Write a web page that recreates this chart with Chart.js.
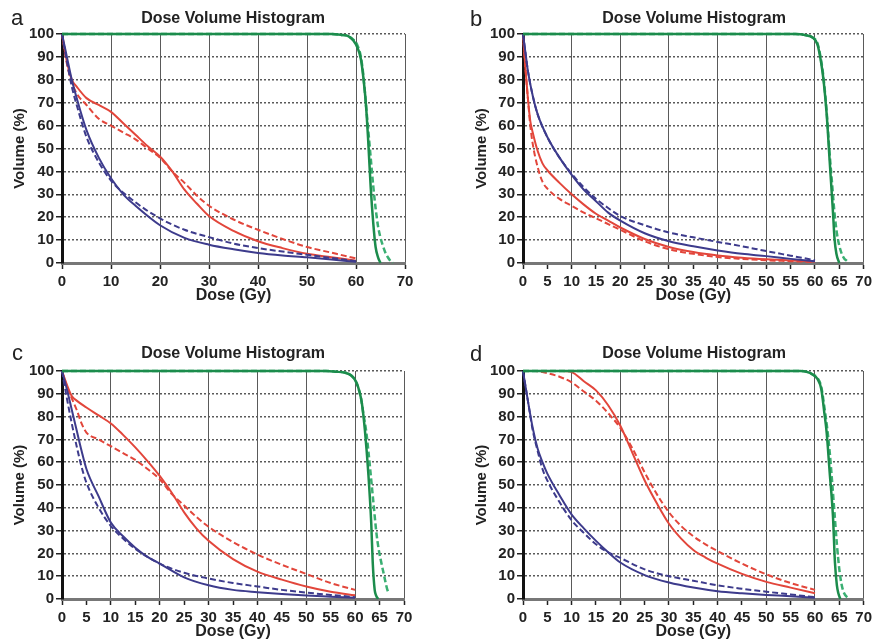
<!DOCTYPE html>
<html>
<head>
<meta charset="utf-8">
<script src="https://cdn.jsdelivr.net/npm/chart.js@4"></script>
<style>
  body { margin: 0; background: #fff; }
  #page { position: relative; width: 876px; height: 642px; overflow: hidden; font-family: "Liberation Sans", Arial, sans-serif; color: #222; }
  canvas { position: absolute; }
  .title { position: absolute; font-weight: bold; font-size: 16px; line-height: 16px; transform: translateX(-50%); white-space: nowrap; }
  .letter { position: absolute; font-size: 22px; line-height: 22px; }
</style>
</head>
<body>
<div id="page">
  <canvas id="chartA" width="438" height="321" style="left:0;top:0"></canvas>
  <canvas id="chartB" width="438" height="321" style="left:438px;top:0"></canvas>
  <canvas id="chartC" width="438" height="321" style="left:0;top:321px"></canvas>
  <canvas id="chartD" width="438" height="321" style="left:438px;top:321px"></canvas>

  <div class="letter" style="left:11px;top:7px">a</div>
  <div class="letter" style="left:470px;top:8px">b</div>
  <div class="letter" style="left:12px;top:342px">c</div>
  <div class="letter" style="left:470px;top:343px">d</div>

  <div class="title" style="left:233px;top:10px">Dose Volume Histogram</div>
  <div class="title" style="left:694px;top:10px">Dose Volume Histogram</div>
  <div class="title" style="left:233px;top:345px">Dose Volume Histogram</div>
  <div class="title" style="left:694px;top:345px">Dose Volume Histogram</div>
</div>

<script>
// [dose (Gy), volume (%)]

// panel a
const blueSolidA = [[0,100],[1,90],[2,80],[3,72],[5,58],[7.5,46],[10,37],[12.5,30],[15,25],[20,16.5],[25,11],[30,8],[35,6],[40,4.4],[45,3.3],[50,2.5],[55,1.5],[60,0.5]];
const blueDashedA = [[0,100],[1,88],[2,77],[3,69],[5,55],[7.5,44],[10,36],[15,26.5],[20,19.5],[25,14.5],[30,11.3],[35,8.5],[40,6.5],[45,5],[50,3.6],[55,2.2],[60,0.8]];
const redSolidA = [[0,100],[1,88],[2,80],[3,77],[5,72],[7.5,69],[10,66],[12.5,61],[15,56],[17.5,51],[20,46.5],[22.5,40],[25,32],[27.5,26],[30,20.5],[35,14],[40,9.5],[45,6.5],[50,4],[55,2.5],[60,1]];
const redDashedA = [[0,100],[1,87],[2,79],[3,74],[5,69],[7.5,63],[10,60],[12.5,57],[15,54],[17.5,50],[20,46],[22.5,40],[25,35],[27.5,29.5],[30,25],[35,19],[40,14.5],[45,10.5],[50,7],[55,4.5],[60,2]];
const greenSolidA = [[0,100],[55,100],[57,99.6],[58.5,99],[59.5,97],[60.3,94],[61,89],[61.5,81],[62,70],[62.5,53],[63,33],[63.5,18],[64,7],[64.5,2.5],[65,0]];
const greenDashedA = [[0,100],[55,100],[57,99.6],[58.5,99],[59.5,97.5],[60.3,95],[61,90],[61.5,82],[62,70],[62.5,58],[63,46],[63.5,34],[64,24],[64.5,16],[65,11],[65.5,7.5],[66,4.5],[66.5,2.5],[67,1],[67.5,0]];

// panel b
const blueSolidB = [[0,100],[0.5,92],[1,84],[2,73],[3,65],[5,55],[7.5,46],[10,38.5],[12.5,32],[15,27],[17.5,22],[20,18.5],[25,13],[30,9.5],[35,7.3],[40,5.5],[45,4],[50,3],[55,1.8],[60,0.8]];
const blueDashedB = [[0,100],[0.5,92],[1,84],[2,73],[3,65],[5,55],[7.5,46],[10,39],[12.5,33],[15,28],[17.5,24],[20,20.5],[25,16.5],[30,13.3],[35,11.2],[40,9.2],[45,7.3],[50,5.2],[55,3.2],[60,1.2]];
const redSolidB = [[0,100],[0.5,85],[1,72],[1.5,62],[2,57],[3,49],[4,43.5],[5,40.5],[7.5,35],[10,30],[12.5,25.5],[15,21.5],[17.5,18.5],[20,15.5],[25,10.5],[30,7],[35,4.8],[40,3.3],[45,2.3],[50,1.6],[55,1.1],[60,0.6]];
const redDashedB = [[0,100],[0.5,85],[1,72],[1.5,60],[2,52],[3,42],[4,35.5],[5,32.5],[7.5,28],[10,25],[12.5,22],[15,19.5],[17.5,17],[20,14.5],[25,9.5],[30,6],[35,4],[40,2.6],[45,1.8],[50,1.2],[55,0.8],[60,0.4]];
const greenSolidB = [[0,100],[56,100],[58,99.5],[59.5,98.5],[60.5,95.5],[61.3,87],[61.8,79],[62.4,65],[63,45],[63.4,32],[63.7,22],[64,11],[64.4,4],[65,0]];
const greenDashedB = [[0,100],[56,100],[58,99.5],[59.5,98.5],[60.5,96],[61.3,88],[61.8,80],[62.4,66],[63,48],[63.5,35],[64,22],[64.5,13],[65,7.5],[65.5,4],[66,2],[66.5,1],[67,0]];

// panel c
const blueSolidC = [[0,100],[1,92],[2,83],[3,74],[4,65],[5,57],[7.5,45],[10,33.5],[12.5,27.5],[15,22.5],[17.5,18.5],[20,15.5],[25,9.5],[30,6],[35,4],[40,3],[45,2.2],[50,1.5],[55,1],[60,0.5]];
const blueDashedC = [[0,100],[1,88],[2,77],[3,67],[4,58],[5,51],[7.5,40],[10,32],[12.5,26.5],[15,22],[17.5,18.5],[20,15.5],[25,11.5],[30,9],[35,7],[40,5.5],[45,4],[50,2.8],[55,1.8],[60,0.8]];
const redSolidC = [[0,100],[1,94],[2,89],[3,87],[5,84],[7.5,80.5],[10,77],[12.5,72],[15,66.5],[17.5,60.5],[20,54],[22.5,46.5],[25,38],[27.5,31],[30,25.5],[35,17.5],[40,12],[45,8.5],[50,5.5],[55,3.2],[60,1.6]];
const redDashedC = [[0,100],[1,93],[2,88],[3,83],[4,77],[5,73],[7.5,70],[10,67],[12.5,64],[15,61],[17.5,57],[20,52.5],[22.5,46],[25,41],[27.5,36],[30,31.7],[35,25],[40,19.5],[45,15],[50,11],[55,7],[60,4]];
const greenSolidC = [[0,100],[54,100],[56,99.7],[58,99.2],[59.2,98],[60,96],[60.6,93],[61.2,88],[61.5,84],[62,74],[62.7,55],[63.3,33],[63.6,16],[64,4],[64.3,1.5],[64.7,0]];
const greenDashedC = [[0,100],[54,100],[56,99.7],[58,99.2],[59.2,98],[60,96],[60.6,93],[61.2,88],[61.7,81],[62.3,73],[62.8,63],[63.3,52],[63.8,41],[64.3,30],[64.8,22],[65.3,16.5],[65.7,12.5],[66.2,7.5],[66.6,4],[66.9,2.5]];

// panel d
const blueSolidD = [[0,100],[1,87],[2,75],[3,66],[4,60],[5,55],[7.5,45.5],[10,37],[12.5,31],[15,25.5],[17.5,20.5],[20,16],[25,10.5],[30,7.2],[35,5],[40,3.4],[45,2.5],[50,1.8],[55,1.2],[60,0.5]];
const blueDashedD = [[0,100],[1,87],[2,74],[3,65],[4,57],[5,52],[7.5,42.5],[10,34.5],[12.5,29],[15,24],[17.5,20.5],[20,18],[25,13],[30,10],[35,8],[40,6],[45,4.5],[50,3.2],[55,2],[60,0.8]];
const redSolidD = [[0,100],[5,100],[8,100],[10,99.5],[12.5,95.5],[15,91.5],[17.5,85],[20,76],[22.5,64],[25,52],[27.5,42],[30,33],[32.5,26.5],[35,21.5],[37.5,18.2],[40,15.5],[45,11],[50,7.5],[55,5],[60,2.5]];
const redDashedD = [[0,100],[2.5,100],[5,99],[7.5,97.5],[10,95],[12.5,91],[15,87],[17.5,81.5],[20,75],[22.5,66],[25,55.5],[27.5,46],[30,38],[32.5,32],[35,27.5],[37.5,24],[40,21],[45,15.5],[50,10.8],[55,7],[60,4]];
const greenSolidD = [[0,100],[57,100],[58.5,99.5],[59.5,98.5],[60.5,96.5],[61.3,92],[61.9,82],[62.4,73],[63,56],[63.7,36],[64.1,16],[64.5,6],[64.8,2.5],[65.2,0]];
const greenDashedD = [[0,100],[57,100],[58.5,99.5],[59.5,98.5],[60.5,97],[61.3,93],[62,83],[62.5,75],[63,65],[63.5,52],[64,38],[64.5,24],[65,13],[65.5,6],[66,2.5],[66.5,1],[67,0]];

const BLUE = '#3d3b8c';
const RED = '#e2463b';
const GREEN = '#1c8c4c';
const GREEN_DASH = '#3aaf72';

function curve(data, color, dashed, width) {
  return {
    data: data,
    borderColor: color,
    borderWidth: width || 2,
    borderDash: dashed ? [6, 3] : [],
    pointRadius: 0,
    fill: false,
    clip: 4,
    cubicInterpolationMode: 'monotone'
  };
}

// box: chart-area edges inside the 438x321 canvas, yTitleX / xTitleY: title centres
function makePanel(id, series, step, box) {
  const tickFont = { family: '"Liberation Sans", Arial, sans-serif', size: 15, weight: 'bold' };
  new Chart(document.getElementById(id), {
    type: 'line',
    data: {
      datasets: [
        curve(series[4], GREEN, false, 2.5),
        curve(series[5], GREEN_DASH, true, 2.5),
        curve(series[0], BLUE, false),
        curve(series[1], BLUE, true),
        curve(series[2], RED, false),
        curve(series[3], RED, true)
      ]
    },
    options: {
      responsive: false,
      animation: false,
      layout: { padding: { left: 0, top: box.top, right: 438 - box.right, bottom: 0 } },
      plugins: { legend: { display: false }, tooltip: { enabled: false } },
      scales: {
        x: {
          type: 'linear',
          min: 0,
          max: 70,
          afterFit: s => { s.height = 321 - box.bottom; },
          ticks: { stepSize: step, autoSkip: false, maxRotation: 0, padding: 4, color: '#222', font: tickFont },
          grid: {
            color: c => (c.tick && c.tick.value !== 0 && c.tick.value % 10 === 0) ? '#5a5a5a' : 'rgba(0,0,0,0)',
            lineWidth: 1,
            tickColor: '#222',
            tickLength: 6,
            tickWidth: 1.5
          },
          border: { display: true, color: '#777', width: 3 },
          title: {
            display: true,
            text: 'Dose (Gy)',
            color: '#222',
            font: { family: '"Liberation Sans", Arial, sans-serif', size: 16, weight: 'bold' },
            padding: { top: 0, bottom: 321 - box.xTitleY - 9.6 }
          }
        },
        y: {
          min: 0,
          max: 100,
          afterFit: s => { s.width = box.left; },
          ticks: { stepSize: 10, padding: 2, color: '#222', font: tickFont },
          grid: {
            color: c => (c.tick && c.tick.value === 0) ? 'rgba(0,0,0,0)' : '#5a5a5a',
            lineWidth: 1.5,
            tickColor: '#222',
            tickLength: 6,
            tickWidth: 1.5
          },
          border: { display: true, color: '#111', width: 3, dash: [2, 2] },
          title: {
            display: true,
            text: 'Volume (%)',
            color: '#222',
            font: { family: '"Liberation Sans", Arial, sans-serif', size: 15, weight: 'bold' },
            padding: { top: box.yTitleX - 9, bottom: 0 }
          }
        }
      }
    }
  });
}

makePanel('chartA', [blueSolidA, blueDashedA, redSolidA, redDashedA, greenSolidA, greenDashedA], 10,
  { left: 62, right: 405, top: 34, bottom: 263, yTitleX: 20, xTitleY: 296 });
makePanel('chartB', [blueSolidB, blueDashedB, redSolidB, redDashedB, greenSolidB, greenDashedB], 5,
  { left: 85, right: 427, top: 34, bottom: 263, yTitleX: 44, xTitleY: 296 });
makePanel('chartC', [blueSolidC, blueDashedC, redSolidC, redDashedC, greenSolidC, greenDashedC], 5,
  { left: 62, right: 404, top: 50, bottom: 278, yTitleX: 20, xTitleY: 311 });
makePanel('chartD', [blueSolidD, blueDashedD, redSolidD, redDashedD, greenSolidD, greenDashedD], 5,
  { left: 85, right: 427, top: 50, bottom: 278, yTitleX: 44, xTitleY: 311 });
</script>
</body>
</html>
